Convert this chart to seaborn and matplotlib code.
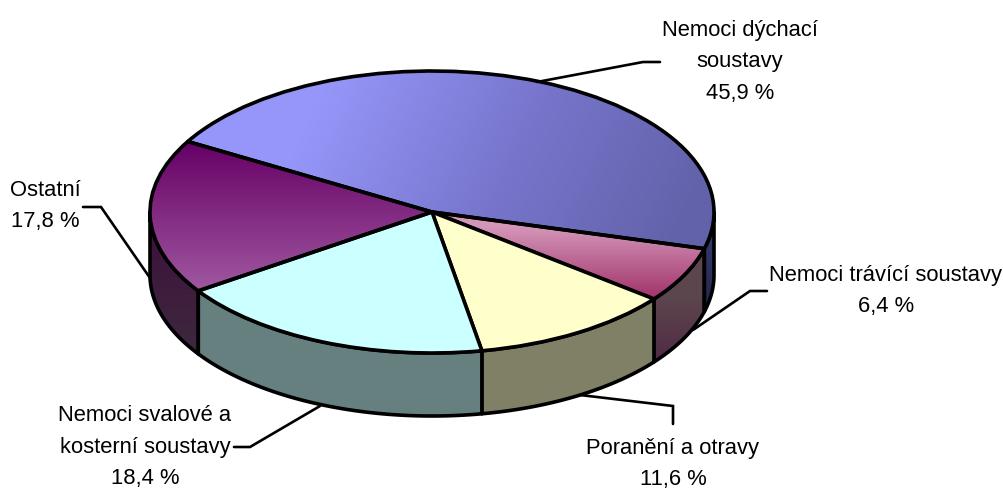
import numpy as np
import matplotlib
matplotlib.use('Agg')
import matplotlib.pyplot as plt
from matplotlib.patches import Polygon
import seaborn as sns

labels = ['Nemoci dýchací\nsoustavy', 'Nemoci trávící soustavy', 'Poranění a otravy',
          'Nemoci svalové a\nkosterní soustavy', 'Ostatní']
shares = [45.9, 6.4, 11.6, 18.4, 17.8]

W, H = 1004, 493
CX, CY, RX, RY = 432, 212, 282, 141
DEPTH = 63 / RY

sns.set_theme(style='white')
plt.rcParams['font.family'] = ['Liberation Sans']

fig = plt.figure(figsize=(W / 100, H / 100), dpi=100)
ax = fig.add_axes([0, 0, 1, 1])

wedges, _ = ax.pie(shares, startangle=150, counterclock=False, radius=1,
                   wedgeprops=dict(linewidth=2.6, edgecolor='black', joinstyle='round'))
ax.set_aspect('auto')
ax.axis('off')


def blend(*cols):
    return sns.blend_palette([tuple(c / 255 for c in col) for col in cols], n_colors=256, as_cmap=True)


def fill_gradient(patch, grad, cmap, extent=(-1.02, 1.02, -1.02 - DEPTH, 1.02), z=1):
    im = ax.imshow(grad, extent=extent, cmap=cmap, vmin=0, vmax=1, aspect='auto',
                   origin='lower', interpolation='bilinear', zorder=z)
    im.set_clip_path(patch)


# gradients for the top faces
xx, yy = np.meshgrid(np.linspace(-1.02, 1.02, 300), np.linspace(-1.02 - DEPTH, 1.02, 300))
vert = lambda top, bottom: np.clip((top - yy) / (top - bottom), 0, 1)

resp_t = np.clip(0.66 * (xx + 0.45) + 0.16 * (0.6 - yy), 0, 1)
top_faces = [
    (resp_t, blend((150, 150, 250), (120, 118, 205), (98, 98, 170))),
    (vert(-0.1, -0.62), blend((212, 150, 185), (160, 50, 105))),
    (None, '#ffffcc'),
    (None, '#ccffff'),
    (vert(0.5, -0.56), blend((102, 0, 102), (160, 88, 160))),
]
# side walls, top to bottom, only the front half of the cake shows
side_faces = [
    (vert(-0.25, -0.75), blend((50, 55, 105), (35, 35, 70))),
    (vert(-0.6, -1.4), blend((92, 70, 78), (72, 22, 60))),
    (None, '#808066'),
    (None, '#668080'),
    (vert(-0.1, -1.0), blend((60, 18, 60), (62, 40, 62))),
]

edges = 150 - 360 * np.cumsum([0] + shares) / sum(shares)
for i in range(len(shares)):
    a0, a1 = edges[i], edges[i + 1]
    # clip the slice to the part of the rim facing the viewer
    hi = min(a0, 0) if a0 > -180 else None
    lo = max(a1, -180)
    if hi is not None and hi > lo:
        t = np.radians(np.linspace(hi, lo, 120))
        top = np.c_[np.cos(t), np.sin(t)]
        bottom = np.c_[np.cos(t[::-1]), np.sin(t[::-1]) - DEPTH]
        wall = Polygon(np.r_[top, bottom], closed=True, transform=ax.transData, linewidth=2.6,
                       edgecolor='black', joinstyle='round', zorder=3)
        grad, fill = side_faces[i]
        if grad is None:
            wall.set_facecolor(fill)
        else:
            wall.set_facecolor('none')
            fill_gradient(wall, grad, fill, z=2)
        ax.add_patch(wall)

    grad, fill = top_faces[i]
    wedges[i].set_zorder(5)
    if grad is None:
        wedges[i].set_facecolor(fill)
    else:
        wedges[i].set_facecolor('none')
        fill_gradient(wedges[i], grad, fill, z=4)
ax.set_xlim(-CX / RX, (W - CX) / RX)
ax.set_ylim((CY - H) / RY, CY / RY)

# overlay in pixel coordinates for the labels and leader lines
lab = fig.add_axes([0, 0, 1, 1], facecolor='none')
lab.set_xlim(0, W)
lab.set_ylim(H, 0)
lab.axis('off')

leaders = [
    ([537, 643, 660], [82, 62, 62]),
    ([693, 750, 767], [330, 291, 291]),
    ([580, 673, 673], [395, 406, 424]),
    ([320, 250, 234], [406, 447, 447]),
    ([150, 101, 83], [278, 207, 207]),
]
text_pos = [(740, 62), (886, 291), (673, 464), (145, 447), (45, 206)]

for i, name in enumerate(labels):
    lab.plot(leaders[i][0], leaders[i][1], color='black', lw=1.9, solid_joinstyle='miter')
    value = f'{shares[i]:.1f}'.replace('.', ',')
    lab.text(text_pos[i][0], text_pos[i][1], f'{name}\n{value} %', ha='center', va='center',
             fontsize=15.8, color='black', linespacing=1.67)

fig.savefig('out.png', dpi=100, facecolor='white')
